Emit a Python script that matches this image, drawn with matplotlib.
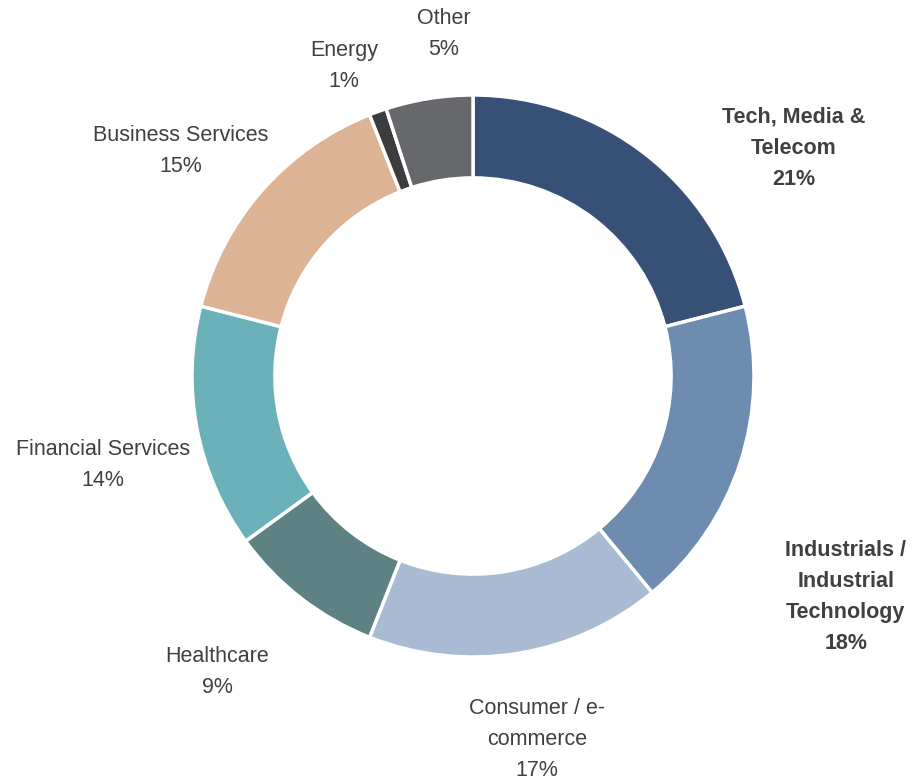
import matplotlib.pyplot as plt

plt.rcParams['font.family'] = ['Liberation Sans', 'DejaVu Sans']

sectors = ["Tech, Media &\nTelecom", "Industrials /\nIndustrial\nTechnology",
           "Consumer / e-\ncommerce", "Healthcare", "Financial Services",
           "Business Services", "Energy", "Other"]
shares = [21, 18, 17, 9, 14, 15, 1, 5]
bold = [True, True, False, False, False, False, False, False]
colors = ["#365175", "#6d8cb0", "#a9bbd3", "#5e8184", "#6bb1ba",
          "#dcb394", "#3c3c3c", "#67686c"]

# label centres in data units (radius = 1)
label_pos = [(1.142, 0.811), (1.327, -0.786), (0.228, -1.295), (-0.911, -1.054),
             (-1.317, -0.317), (-1.039, 0.801), (-0.459, 1.103), (-0.103, 1.217)]

fig = plt.figure(figsize=(9.13, 7.82), dpi=100)
ax = fig.add_axes([0, 0, 1, 1])
ax.pie(shares, colors=colors, startangle=90, counterclock=False, radius=1,
       wedgeprops=dict(width=0.295, edgecolor="white", linewidth=2.5))

for name, v, b, (x, y) in zip(sectors, shares, bold, label_pos):
    ax.text(x, y, f"{name}\n{v}%", ha="center", va="center", fontsize=15.5,
            color="#404040", fontweight="bold" if b else "normal",
            linespacing=1.62)

ax.set_xlim(-473 / 281, (913 - 473) / 281)
ax.set_ylim(-(782 - 376) / 281, 376 / 281)
ax.set_aspect("equal")
ax.axis("off")
fig.savefig("out.png", dpi=100)
